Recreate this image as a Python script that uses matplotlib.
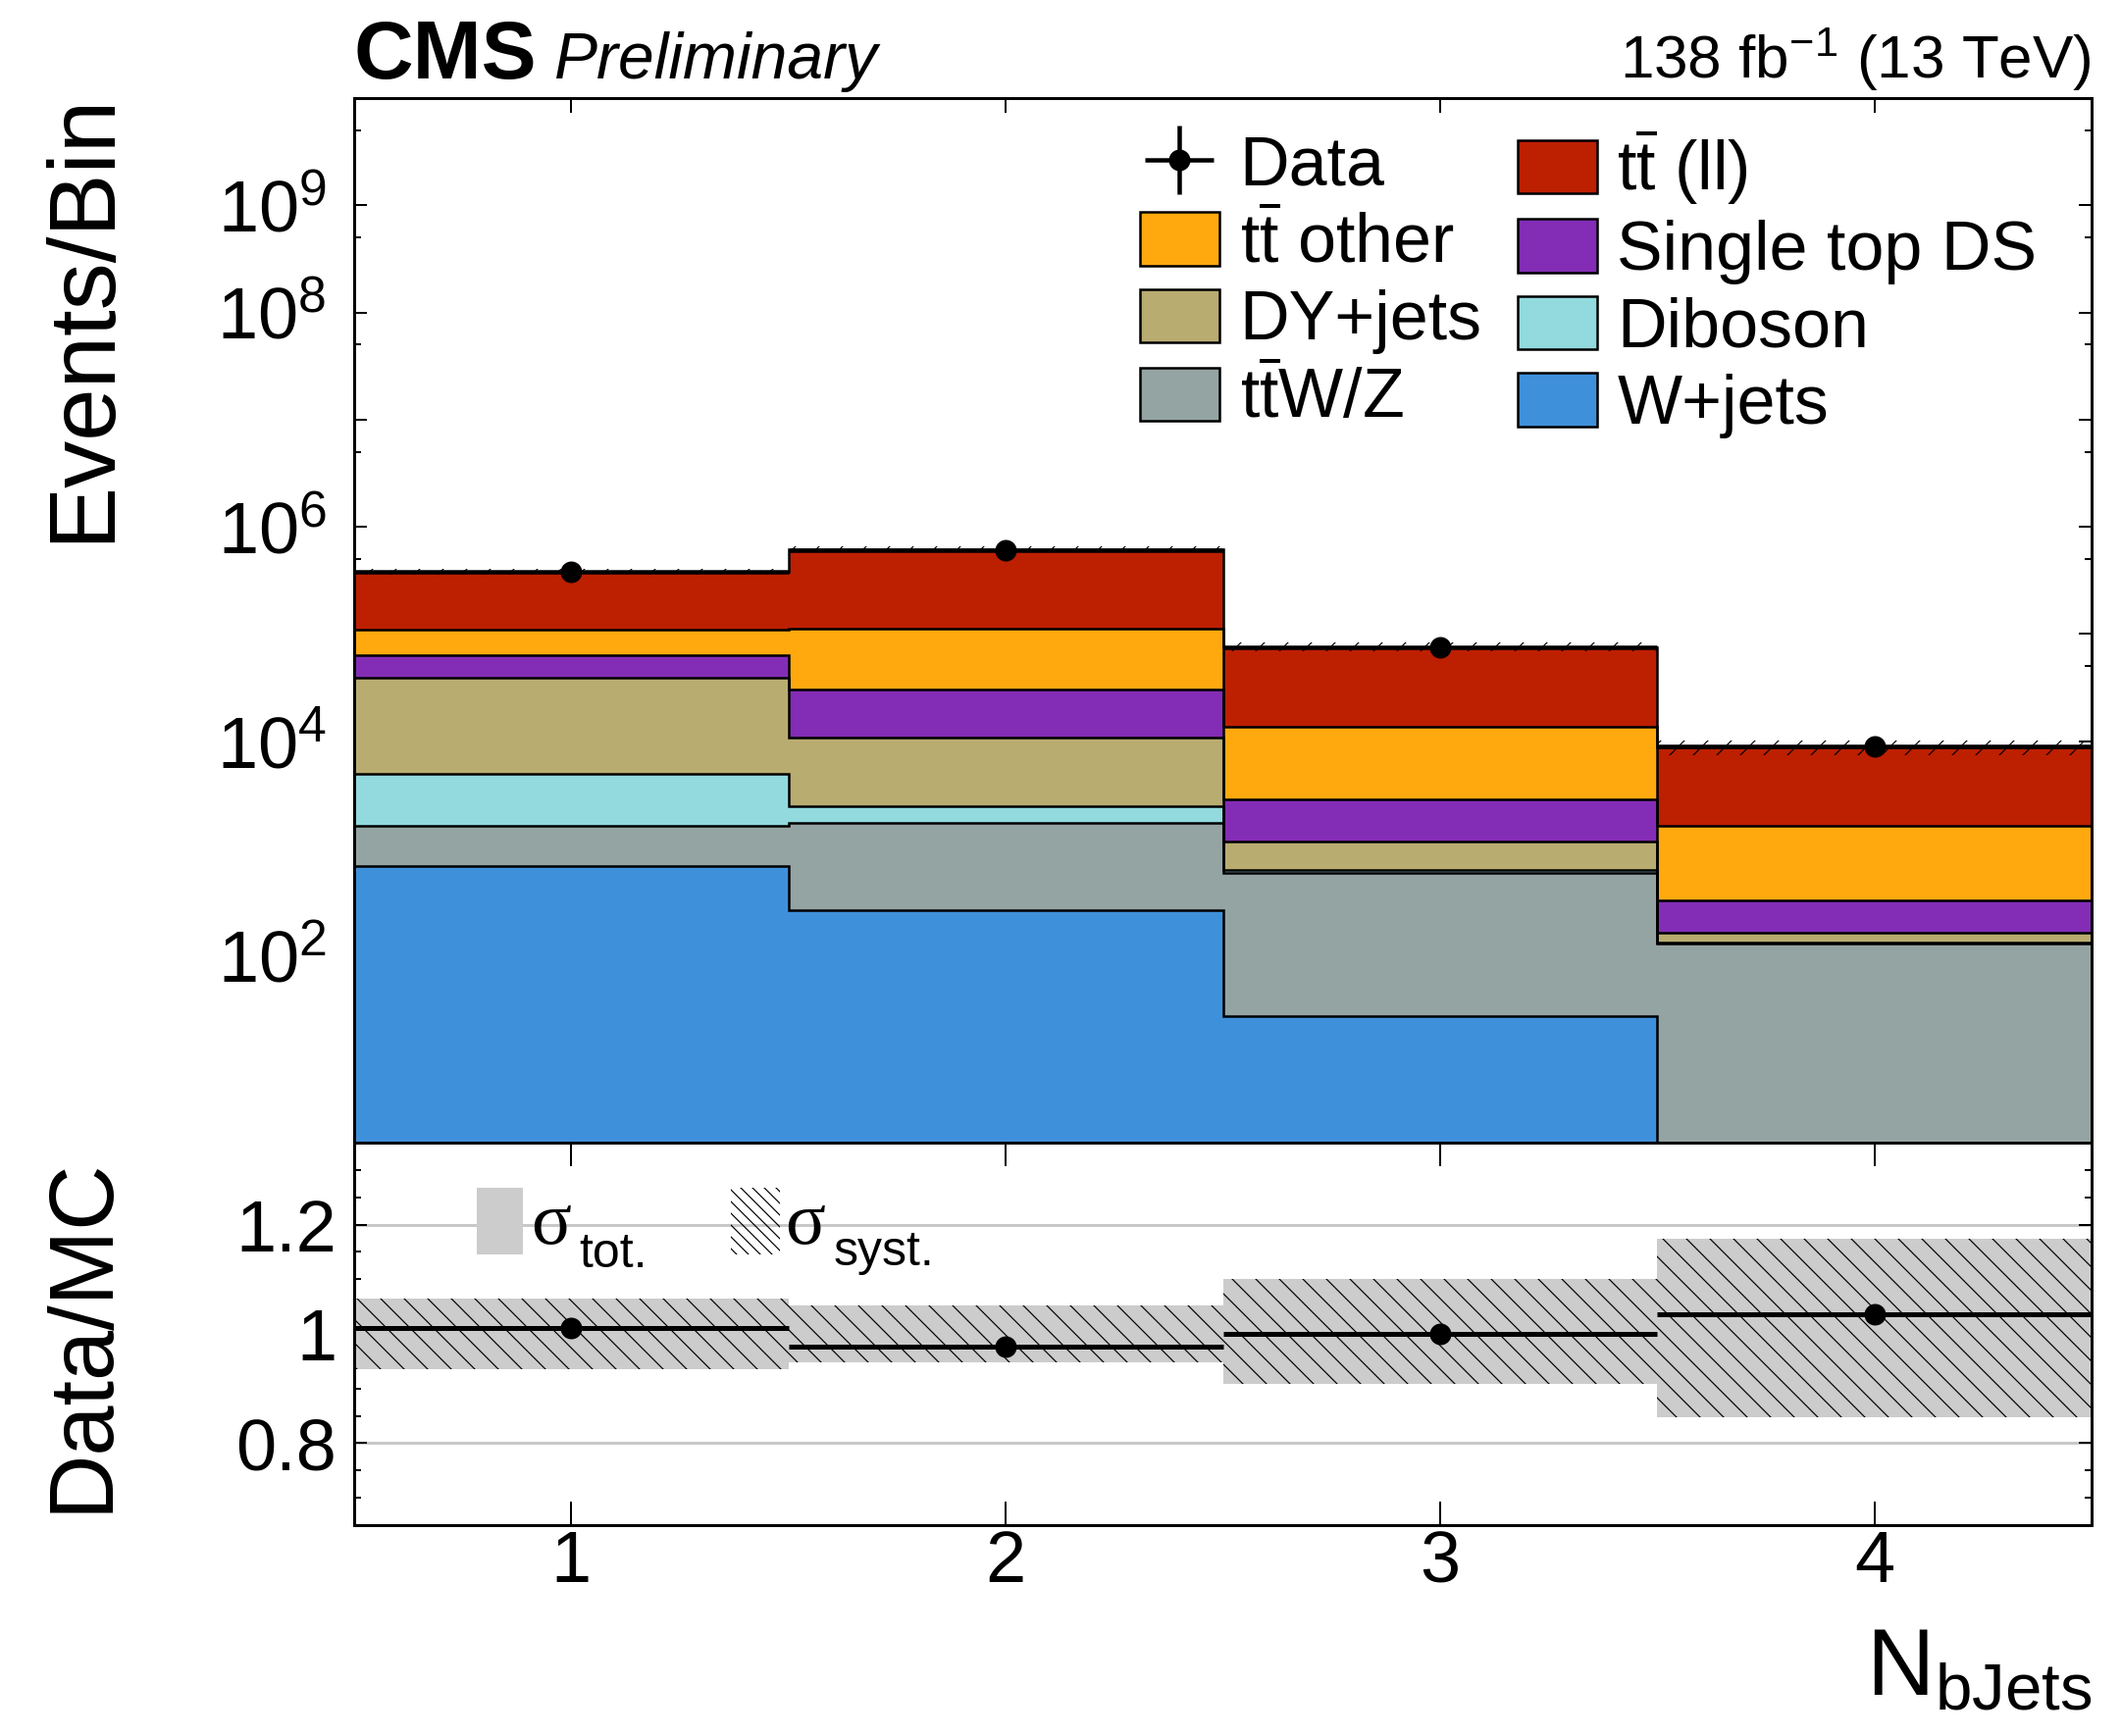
import numpy as np
import matplotlib
matplotlib.use("Agg")
import matplotlib.pyplot as plt
from matplotlib.patches import Patch, Rectangle
from matplotlib.ticker import FixedLocator, FuncFormatter, NullFormatter, MultipleLocator

plt.rcParams['font.family'] = ['Liberation Sans', 'DejaVu Sans']
plt.rcParams['mathtext.fontset'] = 'custom'
plt.rcParams['mathtext.rm'] = 'Liberation Sans'
plt.rcParams['mathtext.it'] = 'Liberation Sans:italic'
plt.rcParams['mathtext.bf'] = 'Liberation Sans:bold'
plt.rcParams['hatch.linewidth'] = 0.6

# ---- values ----
nbjets = [1, 2, 3, 4]
bin_edges = [0.5, 1.5, 2.5, 3.5, 4.5]

w_jets = [690, 265, 27, 0]
ttwz = [950, 1465, 560, 130]
diboson = [3350, 770, 47, 2]
dy_jets = [34100, 8400, 525, 30]
single_top = [23900, 19700, 1740, 168]
tt_other = [48000, 80400, 10800, 1310]
tt_ll = [267000, 511000, 61600, 7090]
data = [382000, 607000, 75300, 9040]

# relative MC uncertainty (total and systematic)
tot_up = [0.065, 0.052, 0.101, 0.174]
tot_dn = [0.064, 0.052, 0.092, 0.152]
syst_up = [0.065, 0.052, 0.101, 0.174]
syst_dn = [0.064, 0.052, 0.092, 0.152]

TT = r'$\mathregular{t\overline{t}}$'

# stacking order, bottom to top
stack = [
    ('W+jets', w_jets, '#3f90da'),
    (TT + 'W/Z', ttwz, '#94a4a2'),
    ('Diboson', diboson, '#92dadd'),
    ('DY+jets', dy_jets, '#b9ac70'),
    ('Single top DS', single_top, '#832db6'),
    (TT + ' other', tt_other, '#ffa90e'),
    (TT + ' (ll)', tt_ll, '#bd1f01'),
]

W, H = 2162, 1770


def fx(px):
    return px / W


def fy(px):
    return 1 - px / H


fig = plt.figure(figsize=(W / 144, H / 144), dpi=144)
ax = fig.add_axes([fx(361), fy(1165), (2132 - 361) / W, (1165 - 100) / H])
axr = fig.add_axes([fx(361), fy(1555), (2132 - 361) / W, (1555 - 1165) / H])

edges = np.array(bin_edges, float)
x = np.array(nbjets, float)
floor = 1e-3

# stacked histograms
cum = np.zeros(len(nbjets))
handles = {}
for name, vals, col in stack:
    new = cum + np.array(vals, float)
    ax.stairs(np.maximum(new, floor), edges, baseline=np.maximum(cum, floor),
              fill=True, facecolor=col, edgecolor='none', lw=0, zorder=2)
    ax.stairs(np.maximum(new, floor), edges, baseline=None,
              color='black', lw=1.25, zorder=3)
    handles[name] = Patch(facecolor=col, edgecolor='black', lw=1.25)
    cum = new
total = cum

# MC uncertainty band on top of the stack
ax.stairs(total * (1 + np.array(tot_up)), edges, baseline=total * (1 - np.array(tot_dn)),
          fill=True, facecolor='none', edgecolor='black', lw=0, hatch='//', zorder=4)

data = np.array(data, float)
eb = ax.errorbar(x, data, xerr=0.5, yerr=np.sqrt(data), fmt='o', color='black',
                 ms=10, lw=2.25, capsize=0, zorder=5)

ax.set_yscale('log')
ax.set_xlim(0.5, 4.5)
ax.set_ylim(1.8, 1e10)
label_pows = {2, 4, 6, 8, 9}


def ylab(v, pos):
    k = int(round(np.log10(v)))
    return r'$\mathregular{10^{%d}}$' % k if k in label_pows else ''


ax.yaxis.set_major_locator(FixedLocator([10.0 ** k for k in range(0, 11)]))
ax.yaxis.set_major_formatter(FuncFormatter(ylab))
ax.yaxis.set_minor_locator(FixedLocator([5 * 10.0 ** k for k in range(0, 10)]))
ax.yaxis.set_minor_formatter(NullFormatter())
ax.set_xticks(nbjets)
ax.tick_params(which='both', direction='in', top=True, right=True, width=1)
ax.tick_params(axis='y', which='major', length=6.5, labelsize=37, pad=14)
ax.tick_params(axis='y', which='minor', length=3.5)
ax.tick_params(axis='x', which='major', length=7.5, labelbottom=False)
ax.tick_params(axis='x', which='minor', bottom=False, top=False)

# legends
leg_kw = dict(frameon=False, fontsize=35, handlelength=1.15, handleheight=0.82,
              handletextpad=0.3, labelspacing=0.17, borderpad=0, borderaxespad=0,
              loc='upper left', bbox_transform=fig.transFigure)
col1 = [(eb, 'Data')] + [(handles[n], n) for n in
                         [stack[5][0], stack[3][0], stack[1][0]]]
col2 = [(handles[n], n) for n in [stack[6][0], stack[4][0], stack[2][0], stack[0][0]]]
leg1 = ax.legend([h for h, _ in col1], [l for _, l in col1],
                 bbox_to_anchor=(fx(1162), fy(137)), **leg_kw)
ax.add_artist(leg1)
ax.legend([h for h, _ in col2], [l for _, l in col2],
          bbox_to_anchor=(fx(1547), fy(129)), **leg_kw)

# ratio panel
for g in [0.8, 1.0, 1.2]:
    axr.axhline(g, color='#c8c8c8', lw=1.5, zorder=1)
axr.stairs(1 + np.array(tot_up), edges, baseline=1 - np.array(tot_dn),
           fill=True, facecolor='#cccccc', lw=0, zorder=2)
axr.stairs(1 + np.array(syst_up), edges, baseline=1 - np.array(syst_dn),
           fill=True, facecolor='none', edgecolor='black', lw=0, hatch='\\\\', zorder=3)
ratio = data / total
axr.errorbar(x, ratio, xerr=0.5, yerr=np.sqrt(data) / total, fmt='o', color='black',
             ms=10, lw=2.5, capsize=0, zorder=5)
axr.set_xlim(0.5, 4.5)
axr.set_ylim(0.65, 1.35)
axr.set_yticks([0.8, 1.0, 1.2])
axr.set_yticklabels(['0.8', '1', '1.2'])
axr.yaxis.set_minor_locator(MultipleLocator(0.05))
axr.set_xticks(nbjets)
axr.set_xticklabels([str(n) for n in nbjets])
axr.tick_params(which='both', direction='in', top=True, right=True, width=1)
axr.tick_params(axis='y', which='major', length=6.5, labelsize=37, pad=9)
axr.tick_params(axis='y', which='minor', length=3.5)
axr.tick_params(axis='x', which='major', length=12, labelsize=37, pad=2)
axr.tick_params(axis='x', which='minor', bottom=False, top=False)

for a in (ax, axr):
    for s in a.spines.values():
        s.set_linewidth(1.5)

# ratio legend
fig.add_artist(Rectangle((fx(486), fy(1279)), 47 / W, 68 / H, transform=fig.transFigure,
                         facecolor='#cccccc', edgecolor='none'))
fig.add_artist(Rectangle((fx(745), fy(1279)), 50 / W, 68 / H, transform=fig.transFigure,
                         facecolor='none', edgecolor='black', lw=0, hatch='\\\\\\\\'))
fig.text(fx(541), fy(1268), 'σ', family='Liberation Serif', fontsize=38, va='baseline')
fig.text(fx(590), fy(1292), 'tot.', fontsize=25, va='baseline')
fig.text(fx(800), fy(1268), 'σ', family='Liberation Serif', fontsize=38, va='baseline')
fig.text(fx(850), fy(1290), 'syst.', fontsize=25, va='baseline')

# header and axis titles
fig.text(fx(361), fy(80), 'CMS', fontsize=42, fontweight='bold', ha='left', va='baseline')
fig.text(fx(565), fy(80), 'Preliminary', fontsize=33, style='italic', ha='left', va='baseline')
fig.text(fx(2132), fy(80), r'138 fb$^{\mathregular{-1}}$ (13 TeV)', fontsize=31,
         ha='right', va='baseline')
fig.text(fx(85), fy(94), 'Events/Bin', rotation=90, fontsize=48, ha='center', va='top')
fig.text(fx(85), fy(1179), 'Data/MC', rotation=90, fontsize=46, ha='center', va='top')
fig.text(fx(2132), fy(1728), r'$\mathregular{N_{bJets}}$', fontsize=48, ha='right', va='baseline')

fig.savefig('out.png', dpi=144)
